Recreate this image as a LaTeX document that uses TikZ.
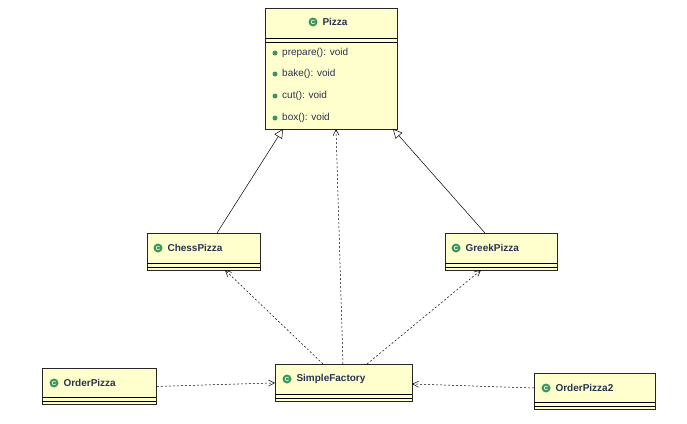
\documentclass[tikz,border=0pt]{standalone}
\usepackage{fontspec}
\setmainfont{Liberation Sans}
\usetikzlibrary{arrows.meta}
\definecolor{cfill}{RGB}{255,255,206}
\definecolor{ctext}{RGB}{40,50,80}
\definecolor{cgreen}{RGB}{60,150,90}
\begin{document}
\begin{tikzpicture}[x=1pt,y=-1pt,
  box/.style={draw=black!85,fill=cfill,line width=0.8pt},
  ttl/.style={font=\bfseries\fontsize{10}{12}\selectfont,text=ctext},
  mth/.style={font=\fontsize{10}{12}\selectfont,text=ctext,anchor=west,inner sep=0},
  icon/.style={circle,fill=cgreen,inner sep=0,minimum size=9pt,font=\bfseries\fontsize{6}{6}\selectfont,text=white},
  dot/.style={circle,fill=cgreen,inner sep=0,minimum size=5pt},
  gen/.style={-{Triangle[open,length=9pt,width=9pt]},line width=0.5pt},
  dep/.style={-{Straight Barb[length=6pt,width=6pt]},dashed,dash pattern=on 2pt off 2pt,line width=0.5pt}]
\useasboundingbox (0,0) rectangle (687,423);
% Pizza
\node[box,minimum width=132pt,minimum height=121pt,anchor=north west] (pizza) at (265,8) {};
\draw[line width=0.8pt] (265,38) -- (397,38) (265,42) -- (397,42);
\node[icon] (pi) at (313,22) {C};
\node[ttl,anchor=west] (pt) at (319,22) {Pizza};
\foreach \y/\t [count=\i] in {53/prepare(): void,74/bake(): void,96/cut(): void,118/box(): void}{
  \node[dot] (pd\i) at (275,\y) {};
  \node[mth] (pm\i) at (282,\y) {\t};
}
% ChessPizza
\node[box,minimum width=113pt,minimum height=37pt,anchor=north west] (chess) at (147,233) {};
\draw[line width=0.8pt] (147,263) -- (260,263) (147,267) -- (260,267);
\node[icon] (ci) at (158,248) {C};
\node[ttl,anchor=west] (ct) at (164,248) {ChessPizza};
% GreekPizza
\node[box,minimum width=112pt,minimum height=37pt,anchor=north west] (greek) at (445,233) {};
\draw[line width=0.8pt] (445,263) -- (557,263) (445,267) -- (557,267);
\node[icon] (gi) at (456,248) {C};
\node[ttl,anchor=west] (gt) at (462,248) {GreekPizza};
% SimpleFactory
\node[box,minimum width=137pt,minimum height=37pt,anchor=north west] (sf) at (275,364) {};
\draw[line width=0.8pt] (275,394) -- (412,394) (275,398) -- (412,398);
\node[icon] (si) at (287,379) {C};
\node[ttl,anchor=west] (st) at (293,379) {SimpleFactory};
% OrderPizza
\node[box,minimum width=114pt,minimum height=36pt,anchor=north west] (op) at (42,368) {};
\draw[line width=0.8pt] (42,397) -- (156,397) (42,401) -- (156,401);
\node[icon] (oi) at (54,383) {C};
\node[ttl,anchor=west] (ot) at (60,383) {OrderPizza};
% OrderPizza2
\node[box,minimum width=121pt,minimum height=36pt,anchor=north west] (op2) at (534,373) {};
\draw[line width=0.8pt] (534,402) -- (655,402) (534,406) -- (655,406);
\node[icon] (o2i) at (546,388) {C};
\node[ttl,anchor=west] (o2t) at (552,388) {OrderPizza2};
% connectors
\coordinate (c1) at (217,233); \coordinate (p1) at (283,129);
\coordinate (c2) at (485,233); \coordinate (p2) at (393,129);
\draw[gen] (c1) -- (p1);
\draw[gen] (c2) -- (p2);
\coordinate (s0) at (343,364); \coordinate (p0) at (336,129);
\draw[dep] (s0) -- (p0);
\coordinate (s1) at (323,364); \coordinate (ch1) at (225,270);
\draw[dep] (s1) -- (ch1);
\coordinate (s2) at (367,364); \coordinate (g1) at (481,270);
\draw[dep] (s2) -- (g1);
\draw[dep] (op.east) -- (sf.west);
\coordinate (o2w) at (534,388); \coordinate (sfe) at (412,384);
\draw[dep] (o2w) -- (sfe);
\end{tikzpicture}
\end{document}
